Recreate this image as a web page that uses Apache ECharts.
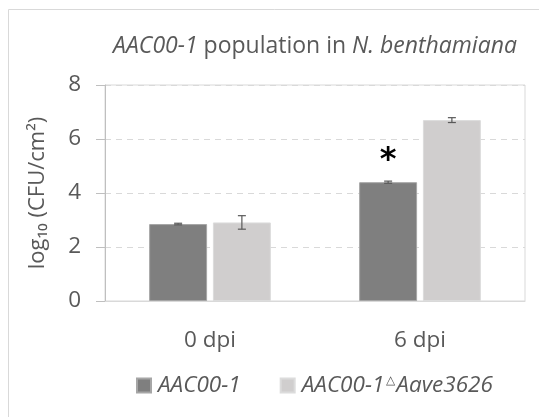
<!DOCTYPE html>
<html>
<head>
<meta charset="utf-8">
<script src="https://cdn.jsdelivr.net/npm/echarts@6/dist/echarts.min.js"></script>
<style>
  html, body { margin: 0; padding: 0; background: #fff; }
  #chart { width: 539px; height: 417px; }
</style>
</head>
<body>
<div id="chart"></div>
<script>
// Bacterial population (log10 CFU/cm2) at 0 and 6 days post inoculation
const categories = ['0 dpi', '6 dpi'];
const wildType = [2.85, 4.40];
const wildTypeErr = [0.03, 0.04];
const mutant = [2.91, 6.70];
const mutantErr = [0.25, 0.09];
const yTicks = [0, 2, 4, 6, 8];
const significant = [false, true];

const FONT = '"Open Sans", "Noto Sans", sans-serif';
const TEXT = '#595959';
const FS = 22.5;
const BAR_FRAC = 0.276;   // bar width as a share of the category band
const GAP_FRAC = 0.10;    // gap between the two bars, relative to bar width

const chart = echarts.init(document.getElementById('chart'), null, { renderer: 'canvas' });

// error bar drawn over a bar of the given series slot (-1 left, +1 right)
function errorRenderer(values, errs, slot) {
  return function (params, api) {
    const i = api.value(0);
    const band = api.size([1, 0])[0];
    const bw = band * BAR_FRAC;
    const off = slot * (bw * (1 + GAP_FRAC)) / 2;
    const hi = api.coord([i, values[i] + errs[i]]);
    const lo = api.coord([i, values[i] - errs[i]]);
    const x = hi[0] + off;
    const cap = 4;
    const style = { stroke: '#595959', lineWidth: 1.2 };
    return {
      type: 'group',
      children: [
        { type: 'line', shape: { x1: x, y1: hi[1], x2: x, y2: lo[1] }, style },
        { type: 'line', shape: { x1: x - cap, y1: hi[1], x2: x + cap, y2: hi[1] }, style },
        { type: 'line', shape: { x1: x - cap, y1: lo[1], x2: x + cap, y2: lo[1] }, style }
      ]
    };
  };
}

const option = {
  animation: false,
  textStyle: { fontFamily: FONT },
  graphic: [{
    type: 'rect',
    shape: { x: 8.5, y: 9.5, width: 700, height: 600 },
    style: { fill: 'none', stroke: '#d9d9d9', lineWidth: 1 },
    silent: true
  }],
  title: {
    text: '{i|AAC00-1} population in {i|N. benthamiana}',
    left: 310,
    textAlign: 'center',
    top: 30,
    textStyle: {
      fontFamily: FONT,
      fontSize: 23,
      fontWeight: 'normal',
      color: TEXT,
      rich: {
        i: { fontFamily: FONT, fontSize: 23, fontStyle: 'italic', color: TEXT }
      }
    }
  },
  legend: {
    left: 136,
    top: 374,
    padding: 0,
    itemWidth: 14,
    itemHeight: 14,
    itemGap: 39,
    icon: 'rect',
    textStyle: {
      fontFamily: FONT,
      fontSize: FS,
      color: TEXT,
      padding: [0, 0, 0, 2],
      rich: {
        i: { fontFamily: FONT, fontSize: FS, fontStyle: 'italic', color: TEXT },
        t: { fontFamily: FONT, fontSize: 12, color: TEXT, padding: [0, 1, 9, 2] }
      }
    },
    formatter: function (name) {
      if (name === 'AAC00-1') return '{i|AAC00-1}';
      return '{i|AAC00-1}{t|△}{i|Aave3626}';
    },
    data: ['AAC00-1', 'AAC00-1ΔAave3626']
  },
  grid: {
    left: 105,
    right: 14,
    top: 85,
    bottom: 116,
    show: true,
    borderColor: '#d9d9d9',
    borderWidth: 1
  },
  xAxis: {
    type: 'category',
    data: categories,
    axisLine: { show: true, lineStyle: { color: '#d9d9d9' } },
    axisTick: { show: false },
    axisLabel: { color: TEXT, fontSize: FS, fontFamily: FONT, margin: 28 }
  },
  yAxis: {
    type: 'value',
    min: yTicks[0],
    max: yTicks[yTicks.length - 1],
    interval: yTicks[1] - yTicks[0],
    name: 'log₁₀ (CFU/cm²)',
    nameLocation: 'middle',
    nameRotate: 90,
    nameGap: 56,
    nameTextStyle: { color: TEXT, fontSize: 22, fontFamily: FONT },
    axisLine: { show: true, lineStyle: { color: '#bfbfbf' } },
    axisTick: { show: true, inside: false, length: 9, lineStyle: { color: '#bfbfbf' } },
    axisLabel: { color: TEXT, fontSize: FS, fontFamily: FONT, margin: 24 },
    splitLine: { show: true, lineStyle: { color: '#d9d9d9', type: [6, 5] } }
  },
  series: [
    {
      name: 'AAC00-1',
      type: 'bar',
      barWidth: (BAR_FRAC * 100) + '%',
      barGap: (GAP_FRAC * 100) + '%',
      itemStyle: { color: '#7f7f7f', borderColor: '#a6a6a6', borderWidth: 1 },
      data: wildType.map(function (v, i) {
        return significant[i]
          ? { value: v, label: { show: true, position: 'top', distance: 6, formatter: '*',
                fontSize: 32, fontWeight: 'bold', color: '#000', fontFamily: 'DejaVu Sans' } }
          : v;
      })
    },
    {
      name: 'AAC00-1ΔAave3626',
      type: 'bar',
      barWidth: (BAR_FRAC * 100) + '%',
      barGap: (GAP_FRAC * 100) + '%',
      itemStyle: { color: '#d0cece', borderColor: '#dcdcdc', borderWidth: 1 },
      data: mutant
    },
    {
      type: 'custom',
      silent: true,
      z: 5,
      renderItem: errorRenderer(wildType, wildTypeErr, -1),
      data: categories.map(function (c, i) { return [i]; })
    },
    {
      type: 'custom',
      silent: true,
      z: 5,
      renderItem: errorRenderer(mutant, mutantErr, 1),
      data: categories.map(function (c, i) { return [i]; })
    }
  ]
};

chart.setOption(option);
</script>
</body>
</html>
